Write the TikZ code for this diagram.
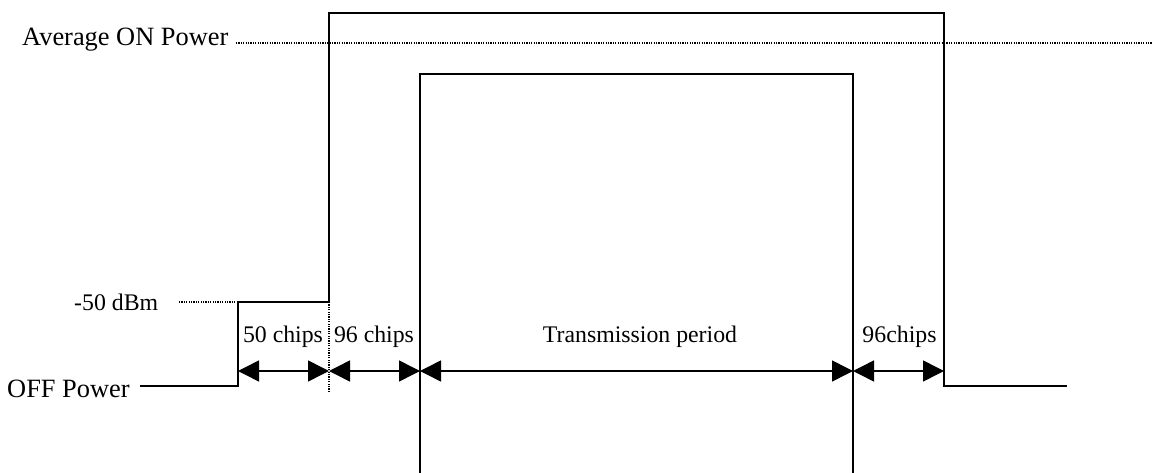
\documentclass[tikz,border=0pt]{standalone}
\usepackage{fontspec}
\setmainfont{Liberation Serif}
\usetikzlibrary{arrows.meta}
\begin{document}
\begin{tikzpicture}[x=1pt,y=-1pt,
  wave/.style={line width=2pt,line join=miter},
  level/.style={line width=1.2pt,dash pattern=on 1.2pt off 1.2pt},
  dim/.style={line width=1.5pt,{Triangle[length=21pt,width=21pt]}-{Triangle[length=21pt,width=21pt]}},
  bigtxt/.style={inner sep=0pt,anchor=base west,font=\fontsize{26.4}{30}\selectfont},
  smalltxt/.style={inner sep=0pt,anchor=base west,font=\fontsize{23.8}{28}\selectfont},
  lbl/.style={inner sep=0pt,anchor=base,font=\fontsize{23.8}{28}\selectfont}]
\useasboundingbox (0,0) rectangle (1153,473);
% text labels
\node[bigtxt] (avg) at (22,46) {Average ON Power};
\node[bigtxt] (off) at (7,397) {OFF Power};
\node[smalltxt] (dbm) at (74,310) {-50 dBm};
% coordinates of the outer waveform
\coordinate (o0) at (140,386);
\coordinate (o1) at (238,386);
\coordinate (o2) at (238,302);
\coordinate (o3) at (329,302);
\coordinate (o4) at (329,13);
\coordinate (o5) at (944,13);
\coordinate (o6) at (944,386);
\coordinate (o7) at (1067,386);
\draw[wave] (o0) -- (o1) -- (o2) -- (o3) -- (o4) -- (o5) -- (o6) -- (o7);
% inner pulse
\coordinate (i0) at (420,473);
\coordinate (i1) at (420,74);
\coordinate (i2) at (853,74);
\coordinate (i3) at (853,473);
\draw[wave] (i0) -- (i1) -- (i2) -- (i3);
% dotted level lines
\coordinate (a0) at (236,43);
\coordinate (a1) at (1152,43);
\draw[level] (a0) -- (a1);
\coordinate (d0) at (179,302);
\draw[level] (d0) -- (o2);
\coordinate (v1) at (329,392);
\draw[level] (o3) -- (v1);
% dimension arrows
\coordinate (m0) at (238,371);
\coordinate (m1) at (329,371);
\coordinate (m2) at (420,371);
\coordinate (m3) at (853,371);
\coordinate (m4) at (944,371);
\draw[dim] (m0) -- (m1);
\draw[dim] (m1) -- (m2);
\draw[dim] (m2) -- (m3);
\draw[dim] (m3) -- (m4);
\node[lbl] (l1) at (283,342) {50 chips};
\node[lbl] (l2) at (374,342) {96 chips};
\node[lbl] (l3) at (640,342) {Transmission period};
\node[lbl] (l4) at (899.5,342) {96chips};
\end{tikzpicture}
\end{document}
